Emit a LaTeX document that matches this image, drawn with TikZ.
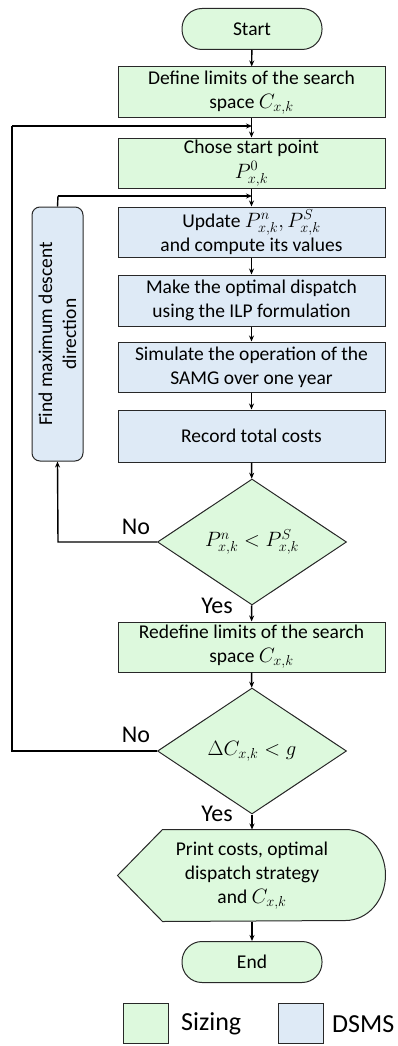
\documentclass[tikz,border=0pt]{standalone}
\usepackage{fontspec}
\setmainfont{Carlito}
\DeclareMathSizes{19.5}{21}{15.5}{12}
\usetikzlibrary{shapes.geometric,arrows.meta}
\definecolor{sizegreen}{RGB}{221,249,221}
\definecolor{dsmsblue}{RGB}{222,234,246}
\definecolor{edgegray}{RGB}{40,40,40}
\tikzset{
  base/.style={draw=edgegray, line width=1pt, align=center, font=\fontsize{19.5}{24}\selectfont, inner sep=0pt},
  greenbox/.style={base, fill=sizegreen, minimum width=267pt},
  bluebox/.style={base, fill=dsmsblue, minimum width=267pt},
  term/.style={base, fill=sizegreen, minimum width=140pt, minimum height=41pt, rounded corners=20pt},
  decision/.style={base, fill=sizegreen, diamond, aspect=1.5, minimum width=189pt, minimum height=126pt},
  conn/.style={line width=1.4pt, -{Stealth[length=6pt,width=5pt]}},
  plain/.style={line width=1.4pt},
  lbl/.style={font=\fontsize{24}{28}\selectfont, inner sep=0pt},
  legendtxt/.style={font=\fontsize{26}{30}\selectfont, inner sep=0pt, anchor=west}
}
\begin{document}
\begin{tikzpicture}[x=1pt,y=-1pt]
\useasboundingbox (0,0) rectangle (398,1046);
\node[term] (start) at (252,29) {Start};
\node[greenbox, minimum height=51pt] (define) at (251.5,92.5) {Define limits of the search\\ space $C_{x,k}$};
\node[greenbox, minimum height=50pt] (chose) at (251.5,163) {Chose start point\\[1pt] $P^{0}_{x,k}$};
\node[bluebox, minimum height=50pt] (update) at (251.5,232) {Update $P^{n}_{x,k}, P^{S}_{x,k}$\\ and compute its values};
\node[bluebox, minimum height=51pt] (make) at (251.5,300.5) {Make the optimal dispatch\\ using the ILP formulation};
\node[bluebox, minimum height=50pt] (sim) at (251.5,367) {Simulate the operation of the\\ SAMG over one year};
\node[bluebox, minimum height=52pt] (record) at (251.5,436) {Record total costs};
\node[decision] (d1) at (252,542) {$P^{n}_{x,k} < P^{S}_{x,k}$};
\node[greenbox, minimum height=50pt] (redefine) at (251.5,647) {Redefine limits of the search\\ space $C_{x,k}$};
\node[decision] (d2) at (252,751) {$\Delta C_{x,k} < g$};
\node[base, draw=none, minimum width=267pt, minimum height=91pt] (print) at (251.5,875.5) {};
\filldraw[draw=edgegray, fill=sizegreen, line width=1pt]
  (print.west) -- ([xshift=45pt]print.north west) -- ([xshift=-40pt]print.north east)
  arc[start angle=90, end angle=-90, x radius=40pt, y radius=45.5pt]
  -- ([xshift=45pt]print.south west) -- cycle;
\node[base, draw=none] (printtxt) at (252,876) {Print costs, optimal\\ dispatch strategy\\ and $C_{x,k}$};
\node[term] (end) at (252,962) {End};
\node[base, rotate=90, fill=dsmsblue, minimum width=254pt, minimum height=51pt, rounded corners=8pt] (find) at (57.5,334) {Find maximum descent\\ direction};

\coordinate (j1) at (252,126);
\coordinate (j2) at (252,196);
\coordinate (l1a) at (12,751);
\coordinate (l1b) at (12,126);
\coordinate (l2a) at (58,542);
\coordinate (l2b) at (58,196);

\draw[conn] (start) -- (define);
\draw[conn] (define) -- (chose);
\draw[conn] (chose) -- (update);
\draw[conn] (update) -- (make);
\draw[conn] (make) -- (sim);
\draw[conn] (sim) -- (record);
\draw[conn] (record) -- (d1);
\draw[conn] (d1) -- (redefine);
\draw[conn] (redefine) -- (d2);
\draw[conn] (d2) -- (print.north -| d2.south);
\draw[conn] (print.south -| end.north) -- (end);
\draw[conn] (d1.west) -- (l2a) -- (find.west);
\draw[plain] (find.east) -- (l2b);
\draw[conn] (l2b) -- (j2);
\draw[plain] (d2.west) -- (l1a) -- (l1b);
\draw[conn] (l1b) -- (j1);

\node[lbl] (no1) at (136,527) {No};
\node[lbl] (yes1) at (217,606) {Yes};
\node[lbl] (no2) at (136,735) {No};
\node[lbl] (yes2) at (217,814) {Yes};

\node[base, fill=sizegreen, minimum width=45pt, minimum height=40pt] (lg) at (145.5,1023) {};
\node[legendtxt] (lgt) at (181,1024) {Sizing};
\node[base, fill=dsmsblue, minimum width=45pt, minimum height=40pt] (lb) at (300.5,1023) {};
\node[legendtxt] (lbt) at (332,1024) {DSMS};
\end{tikzpicture}
\end{document}
